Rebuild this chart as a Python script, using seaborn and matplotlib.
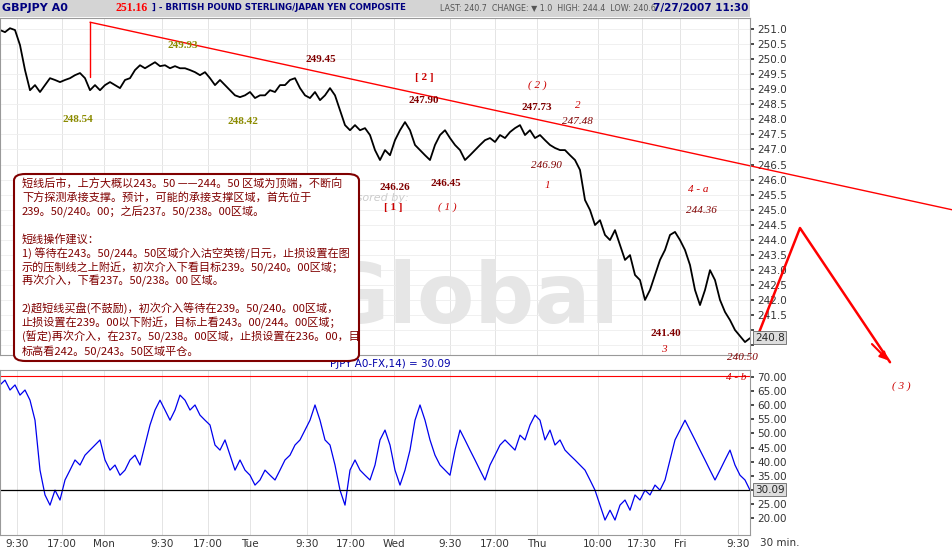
import matplotlib
matplotlib.use("Agg")
import matplotlib.pyplot as plt
import seaborn as sns
import numpy as np
import pandas as pd
from matplotlib.patches import FancyBboxPatch, Rectangle

sns.set_theme(style="white")
plt.rcParams['font.family'] = ['DejaVu Sans', 'Noto Sans CJK SC']

price = [250.97,250.9,251.03,250.97,250.47,249.64,248.97,249.14,248.91,249.14,249.37,249.31,249.24,249.31,249.37,249.47,249.54,249.37,248.97,249.14,248.97,249.14,249.24,249.14,249.04,249.31,249.37,249.64,249.8,249.7,249.8,249.9,249.77,249.8,249.7,249.77,249.7,249.7,249.64,249.57,249.47,249.57,249.37,249.14,249.31,249.14,248.97,248.8,248.74,248.8,248.91,248.71,248.8,248.8,248.97,248.91,249.14,249.14,249.31,249.37,249.04,248.8,248.71,248.91,248.64,248.8,249.04,248.8,248.31,247.81,247.64,247.81,247.64,247.71,247.48,246.98,246.65,246.98,246.81,247.31,247.64,247.91,247.64,247.15,246.98,246.81,246.65,247.15,247.48,247.64,247.38,247.15,246.98,246.65,246.81,246.98,247.15,247.31,247.38,247.25,247.48,247.38,247.58,247.71,247.81,247.48,247.64,247.38,247.48,247.31,247.15,247.05,246.98,246.98,246.81,246.65,246.32,245.32,244.99,244.49,244.65,244.16,243.99,244.32,243.82,243.33,243.49,242.83,242.66,242.0,242.33,242.83,243.33,243.66,244.16,244.26,243.99,243.66,243.16,242.33,241.83,242.33,242.99,242.66,242.0,241.6,241.33,241.0,240.8,240.6,240.73]
rsi = [67.2,68.9,65.4,67.2,63.6,65.4,61.8,54.7,37.0,28.2,24.6,29.9,26.4,33.5,37.0,40.6,38.8,42.3,44.1,45.9,47.7,40.6,37.0,38.8,35.2,37.0,40.6,42.3,38.8,45.9,53.0,58.3,61.8,58.3,54.7,58.3,63.6,61.8,58.3,60.1,56.5,54.7,53.0,45.9,44.1,47.7,42.3,37.0,40.6,37.0,35.2,31.7,33.5,37.0,35.2,33.5,37.0,40.6,42.3,45.9,47.7,51.2,54.7,60.1,54.7,47.7,45.9,38.8,29.9,24.6,37.0,40.6,37.0,35.2,33.5,38.8,47.7,51.2,45.9,37.0,31.7,37.0,44.1,54.7,60.1,54.7,47.7,42.3,38.8,37.0,35.2,44.1,51.2,47.7,44.1,40.6,37.0,33.5,38.8,42.3,45.9,47.7,45.9,44.1,49.4,47.7,53.0,56.5,54.7,47.7,51.2,45.9,47.7,44.1,42.3,40.6,38.8,37.0,33.5,29.9,24.6,19.3,22.8,19.3,24.6,26.4,22.8,28.2,26.4,29.9,28.2,31.7,29.9,33.5,40.6,47.7,51.2,54.7,51.2,47.7,44.1,40.6,37.0,33.5,37.0,40.6,44.1,38.8,35.2,33.5,29.9]
tick_labels = ["9:30","17:00","Mon","9:30","17:00","Tue","9:30","17:00","Wed","9:30","17:00","Thu","10:00","17:30","Fri","9:30"]
tick_pos = [17,62,104,162,208,250,307,351,394,450,495,537,598,642,680,738]

dfp = pd.DataFrame({"t": np.linspace(0, 750, len(price)), "p": price})
dfr = pd.DataFrame({"t": np.linspace(0, 750, len(rsi)), "r": rsi})

W, H = 953, 550
fig = plt.figure(figsize=(9.53, 5.5), dpi=100)
fig.patch.set_facecolor("white")
def fx(px): return px / W
def fy(py): return 1 - py / H

ax = fig.add_axes([0, fy(355), fx(750), (355-18)/H])
ax2 = fig.add_axes([0, fy(535), fx(750), (535-370)/H])
for a in (ax, ax2):
    a.set_facecolor("white")
    for s in a.spines.values():
        s.set_color("#999999"); s.set_linewidth(0.8)
    a.set_xlim(0, 750)
    a.yaxis.tick_right()
    a.tick_params(axis='y', labelsize=7.5, length=3, pad=2, colors="#333333")
    for p in tick_pos:
        a.axvline(p, color="#e4e4e4", lw=0.7, zorder=0)

sns.lineplot(data=dfp, x="t", y="p", ax=ax, color="black", lw=1.3)
ax.set_ylim(240.17, 251.37)
yt = np.arange(240.5, 251.01, 0.5)
ax.set_yticks(yt)
ax.set_yticklabels(["" if v < 241.2 else f"{v:.1f}" for v in yt])
for v in yt:
    ax.axhline(v, color="#eeeeee", lw=0.6, zorder=0)
ax.set_xticks([]); ax.set_xlabel(""); ax.set_ylabel("")

sns.lineplot(data=dfr, x="t", y="r", ax=ax2, color="#0000ee", lw=0.9)
ax2.set_ylim(14.0, 72.5)
rt = np.arange(20, 71, 5)
ax2.set_yticks(rt)
ax2.set_yticklabels(["" if v == 30 else f"{v:.2f}" for v in rt])
ax2.axhline(30.09, color="black", lw=0.9)
ax2.axhline(70.5, color="red", lw=0.8)
ax2.set_xticks(tick_pos); ax2.set_xticklabels(tick_labels)
ax2.tick_params(axis='x', labelsize=7.5, length=2, pad=1, colors="#333333")
ax2.set_xlabel(""); ax2.set_ylabel("")
fig.text(fx(760), fy(543), "30 min.", fontsize=7.5, va="center", color="#333333")

ax.text(755, 240.75, "240.8", fontsize=7.5, va="center", ha="left", zorder=30,
        bbox=dict(boxstyle="square,pad=0.15", fc="#dddddd", ec="#666666", lw=0.6), clip_on=False)
ax2.text(755, 30.09, "30.09", fontsize=7.5, va="center", ha="left", zorder=30,
         bbox=dict(boxstyle="square,pad=0.15", fc="#dddddd", ec="#666666", lw=0.6), clip_on=False)

ax.text(470, 242.0, "Global", fontsize=60, color="#e6e6e6", fontweight="bold", ha="center", va="center", zorder=0)
ax.text(330, 245.3, "sponsored by:", fontsize=8, color="#cccccc", style="italic", zorder=0)
ax.text(330, 240.05, "PJPY A0-FX,14) = 30.09", fontsize=7.5, color="#0000aa", va="top", clip_on=False)

ax.plot([90, 953], [251.23, 244.99], color="red", lw=1.0, clip_on=False)
ax.plot([90, 90], [251.23, 249.4], color="red", lw=1.0)
ax.plot([758, 800, 890], [240.83, 244.39, 239.93], color="red", lw=1.8, clip_on=False)
ax.annotate("", xy=(890, 239.93), xytext=(870, 240.6),
            arrowprops=dict(arrowstyle="-|>", color="red", lw=1.5), annotation_clip=False)

DR = "#800000"; OL = "#8b8b00"
labels = [
    (183,46,"249.93",OL,"bold","normal"),(78,119,"248.54",OL,"bold","normal"),(243,122,"248.42",OL,"bold","normal"),
    (321,60,"249.45",DR,"bold","normal"),(424,78,"[ 2 ]","#cc0000","bold","normal"),(424,100,"247.90",DR,"bold","normal"),
    (537,85,"( 2 )","#cc0000","normal","italic"),(578,106,"2","#cc0000","normal","italic"),(537,107,"247.73",DR,"bold","normal"),
    (577,121,"247.48",DR,"normal","italic"),(546,166,"246.90",DR,"normal","italic"),(547,186,"1","#cc0000","normal","italic"),
    (395,187,"246.26",DR,"bold","normal"),(446,183,"246.45",DR,"bold","normal"),(393,207,"[ 1 ]","#cc0000","bold","normal"),
    (447,207,"( 1 )","#cc0000","normal","italic"),(698,189,"4 - a","#cc0000","normal","italic"),(701,211,"244.36",DR,"normal","italic"),
    (666,333,"241.40",DR,"bold","normal"),(664,350,"3","#cc0000","normal","italic"),(742,358,"240.50",DR,"normal","italic"),
    (736,377,"4 - b","#cc0000","normal","italic"),(901,386,"( 3 )","#cc0000","normal","italic"),
]
for x, y, t, c, w, st in labels:
    fig.text(fx(x), fy(y), t, color=c, fontweight=w, style=st, fontsize=8,
             family=["Liberation Serif", "DejaVu Serif"], ha="center", va="center", zorder=10)

box = FancyBboxPatch((fx(14), fy(361)), fx(345), (361-174)/H, boxstyle="round,pad=0,rounding_size=0.012",
                     transform=fig.transFigure, fc="white", ec=DR, lw=1.5, zorder=20)
fig.patches.append(box)
lines = ["短线后市，上方大概以243。50 ——244。50 区域为顶端，不断向",
         "下方探测承接支撑。预计，可能的承接支撑区域，首先位于",
         "239。50/240。00；之后237。50/238。00区域。", "",
         "短线操作建议：",
         "1) 等待在243。50/244。50区域介入沽空英镑/日元，止损设置在图",
         "示的压制线之上附近，初次介入下看目标239。50/240。00区域；",
         "再次介入，下看237。50/238。00 区域。", "",
         "2)超短线买盘(不鼓励)，初次介入等待在239。50/240。00区域，",
         "止损设置在239。00以下附近，目标上看243。00/244。00区域；",
         "(暂定)再次介入，在237。50/238。00区域，止损设置在236。00，目",
         "标高看242。50/243。50区域平仓。"]
for i, l in enumerate(lines):
    fig.text(fx(22), fy(184 + i*13.9), l, color=DR, fontsize=8.0, va="center",
             family=["Noto Sans CJK SC", "DejaVu Sans"], zorder=21)

fig.patches.append(Rectangle((0, fy(17)), fx(750), 17/H, transform=fig.transFigure, fc="#d4d4d4", ec="none", zorder=5))
hf = ["DejaVu Sans"]
fig.text(fx(2), fy(8), "GBPJPY A0", color="#000080", fontweight="bold", fontsize=8, va="center", family=hf, zorder=6)
fig.text(fx(116), fy(8), "251.16", color="red", fontweight="bold", fontsize=8.5, va="center",
         family=["Liberation Serif"], zorder=6)
fig.text(fx(152), fy(8), "] - BRITISH POUND STERLING/JAPAN YEN COMPOSITE", color="#000080", fontweight="bold",
         fontsize=6.2, va="center", family=hf, zorder=6)
fig.text(fx(440), fy(8), "LAST: 240.7  CHANGE: \u25bc 1.0  HIGH: 244.4  LOW: 240.6", color="#555555",
         fontsize=5.8, va="center", family=hf, zorder=6)
fig.text(fx(748), fy(8), "7/27/2007 11:30", color="#000080", fontweight="bold", fontsize=7.5, va="center",
         ha="right", family=hf, zorder=6)

fig.savefig("out.png", dpi=100, facecolor="white")
